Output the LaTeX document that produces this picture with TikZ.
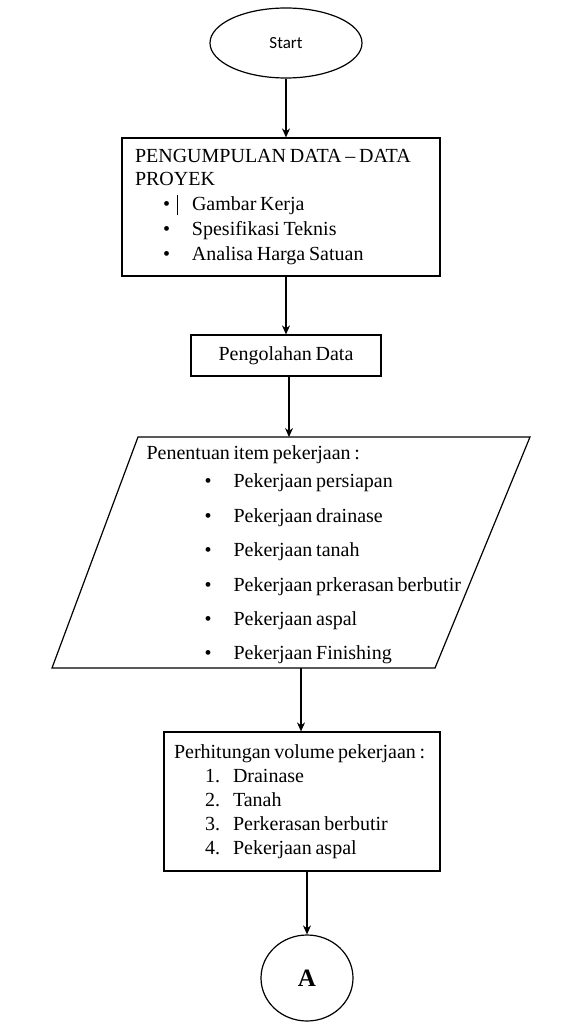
\documentclass[tikz,border=0pt]{standalone}
\usepackage{fontspec}
\setmainfont{Liberation Serif}[WordSpace=0.75]
\newfontfamily\startfont{Carlito}
\usetikzlibrary{arrows.meta,shapes.geometric}
\newcommand{\bul}[3]{\makebox[#2][l]{\hspace*{#1}\textbullet}#3}
\newcommand{\num}[2]{\makebox[59pt][l]{\hspace*{31pt}#1.}#2}
\newcommand{\tight}{\spaceskip=3.75pt plus 1pt minus 1pt\relax}
\begin{document}
\begin{tikzpicture}[x=1pt,y=-1pt,
    line width=1.2pt,
    box/.style={draw,rectangle,inner sep=0pt},
    flow/.style={-{Stealth[length=9pt,width=8pt]}}]
    \useasboundingbox (0,0) rectangle (566,1022);
    \node[draw,ellipse,minimum width=152,minimum height=70,font=\startfont\fontsize{17}{20}\selectfont] (start) at (286,43) {Start};
    \node[box,minimum width=318,minimum height=138,inner xsep=13pt,text width=292pt,align=left,font=\fontsize{20}{25}\selectfont] (data) at (281,207)
        {\tight PENGUMPULAN DATA -- DATA\\[-2pt]PROYEK\\
         \makebox[57pt][l]{\hspace*{28pt}\textbullet\hspace*{7pt}\rule[-5pt]{0.8pt}{20pt}}Gambar Kerja\\
         \bul{28pt}{57pt}{Spesifikasi Teknis}\\
         \bul{28pt}{57pt}{Analisa Harga Satuan}};
    \node[box,minimum width=190,minimum height=41,font=\fontsize{20}{24}\selectfont] (proc) at (286,355.5) {Pengolahan Data};
    % parallelogram
    \draw (138,437) -- (530,437) -- (435,668) -- (52,668) -- cycle;
    \coordinate (itemsTop) at (289,437);
    \coordinate (itemsBot) at (301,668);
    \node[anchor=west,inner sep=0pt,align=left,font=\fontsize{20}{34.4}\selectfont] (items) at (146,555)
        {Penentuan item pekerjaan :\\[-6pt]
         \bul{58pt}{87pt}{Pekerjaan persiapan}\\
         \bul{58pt}{87pt}{Pekerjaan drainase}\\
         \bul{58pt}{87pt}{Pekerjaan tanah}\\
         \bul{58pt}{87pt}{Pekerjaan prkerasan berbutir}\\
         \bul{58pt}{87pt}{Pekerjaan aspal}\\
         \bul{58pt}{87pt}{Pekerjaan Finishing}};
    \node[box,minimum width=276,minimum height=139,inner xsep=10pt,text width=256pt,align=left,font=\fontsize{20}{24}\selectfont] (calc) at (302,801.5)
        {\tight Perhitungan volume pekerjaan :\\
         \num{1}{Drainase}\\
         \num{2}{Tanah}\\
         \num{3}{Perkerasan berbutir}\\
         \num{4}{Pekerjaan aspal}};
    \node[draw,ellipse,minimum width=92,minimum height=86,font=\bfseries\fontsize{25}{28}\selectfont] (endA) at (307,978) {A};
    \draw[flow] (start.south) -- (start.south |- data.north);
    \draw[flow] (proc.north |- data.south) -- (proc.north);
    \draw[flow] (itemsTop |- proc.south) -- (itemsTop);
    \draw[flow] (itemsBot) -- (itemsBot |- calc.north);
    \draw[flow] (endA.north |- calc.south) -- (endA.north);
\end{tikzpicture}
\end{document}
